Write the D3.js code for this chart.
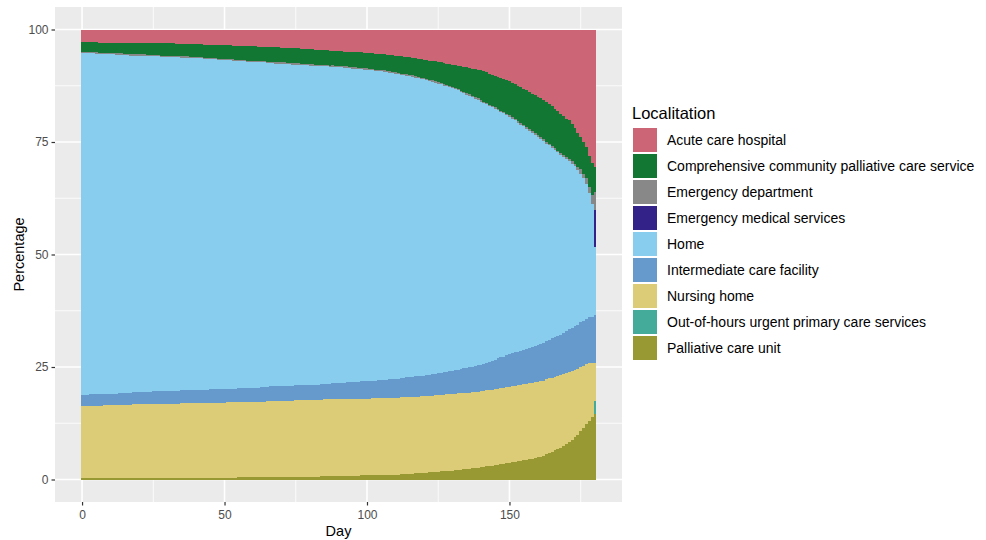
<!DOCTYPE html>
<meta charset="utf-8">
<style>
  body { margin: 0; background: #fff; }
  text { font-family: "Liberation Sans", Arial, sans-serif; }
</style>
<body>
<script src="https://d3js.org/d3.v7.min.js"></script>
<script>
// day before death, 0..180
var days = d3.range(0, 181);

// stack order, bottom to top
var locations = ["Palliative care unit", "Out-of-hours urgent primary care services", "Nursing home",
  "Intermediate care facility", "Home", "Emergency medical services", "Emergency department",
  "Comprehensive community palliative care service", "Acute care hospital"];

var colors = ["#999933", "#44AA99", "#DDCC77", "#6699CC", "#88CCEE", "#332288", "#888888", "#117733", "#CC6677"];

// percentages per day
var palliativeCareUnit = [
  0.3,0.3,0.3,0.3,0.3,0.3,0.3,0.3,0.3,0.3,
  0.3,0.3,0.3,0.3,0.3,0.3,0.3,0.3,0.3,0.3,
  0.3,0.3,0.3,0.3,0.3,0.3,0.3,0.3,0.3,0.3,
  0.3,0.3,0.3,0.3,0.3,0.4,0.4,0.4,0.4,0.4,
  0.4,0.4,0.4,0.4,0.4,0.4,0.4,0.4,0.4,0.4,
  0.4,0.4,0.4,0.4,0.4,0.5,0.5,0.5,0.5,0.5,
  0.5,0.5,0.5,0.5,0.5,0.6,0.6,0.6,0.6,0.6,
  0.6,0.6,0.6,0.6,0.6,0.6,0.6,0.6,0.6,0.6,
  0.6,0.6,0.6,0.6,0.7,0.7,0.7,0.7,0.7,0.7,
  0.7,0.7,0.7,0.8,0.8,0.8,0.8,0.8,0.9,0.9,
  0.9,0.9,0.9,1.0,1.0,1.0,1.0,1.0,1.1,1.1,
  1.1,1.1,1.2,1.2,1.3,1.3,1.3,1.4,1.4,1.5,
  1.5,1.5,1.6,1.6,1.7,1.7,1.8,1.8,1.9,1.9,
  2.0,2.1,2.1,2.2,2.3,2.3,2.4,2.5,2.6,2.6,
  2.7,2.8,2.9,3.0,3.1,3.2,3.3,3.4,3.5,3.6,
  3.7,3.8,3.9,4.0,4.1,4.3,4.4,4.5,4.6,4.8,
  4.9,5.1,5.3,5.6,5.9,6.2,6.5,6.8,7.1,7.4,
  7.8,8.3,8.8,9.4,10.0,10.8,11.5,12.3,13.1,13.9,
  14.5];

var outOfHours = [
  0,0,0,0,0,0,0,0,0,0, 0,0,0,0,0,0,0,0,0,0,
  0,0,0,0,0,0,0,0,0,0, 0,0,0,0,0,0,0,0,0,0,
  0,0,0,0,0,0,0,0,0,0, 0,0,0,0,0,0,0,0,0,0,
  0,0,0,0,0,0,0,0,0,0, 0,0,0,0,0,0,0,0,0,0,
  0,0,0,0,0,0,0,0,0,0, 0,0,0,0,0,0,0,0,0,0,
  0,0,0,0,0,0,0,0,0,0, 0,0,0,0,0,0,0,0,0,0,
  0,0,0,0,0,0,0,0,0,0, 0,0,0,0,0,0,0,0,0,0,
  0,0,0,0,0,0,0,0,0,0, 0,0,0,0,0,0,0,0,0,0,
  0,0,0,0,0,0,0,0,0,0, 0,0,0,0,0,0,0,0,0,0,
  3.0];

var nursingHome = [
  16.0,16.0,16.0,16.1,16.1,16.1,16.1,16.1,16.2,16.2,
  16.2,16.2,16.2,16.3,16.3,16.3,16.3,16.3,16.4,16.4,
  16.4,16.4,16.4,16.4,16.4,16.5,16.5,16.5,16.5,16.5,
  16.5,16.5,16.5,16.5,16.5,16.6,16.6,16.6,16.6,16.6,
  16.6,16.6,16.6,16.6,16.6,16.7,16.7,16.7,16.7,16.7,
  16.7,16.7,16.7,16.7,16.7,16.8,16.8,16.8,16.8,16.8,
  16.8,16.8,16.8,16.8,16.8,16.9,16.9,16.9,16.9,16.9,
  16.9,16.9,16.9,16.9,16.9,17.0,17.0,17.0,17.0,17.0,
  17.0,17.0,17.0,17.0,17.0,17.1,17.1,17.1,17.1,17.1,
  17.1,17.1,17.1,17.1,17.1,17.1,17.1,17.1,17.1,17.1,
  17.1,17.1,17.1,17.1,17.1,17.1,17.1,17.1,17.1,17.1,
  17.1,17.1,17.1,17.1,17.1,17.0,17.0,17.0,17.0,17.0,
  17.0,17.0,17.0,17.0,17.0,17.0,17.0,17.0,17.0,17.0,
  17.0,17.0,17.0,17.0,17.0,16.9,16.9,16.9,16.9,16.9,
  16.9,16.9,16.9,16.9,16.9,16.9,16.9,16.9,16.9,16.9,
  16.9,16.9,16.9,16.9,16.9,16.8,16.8,16.8,16.8,16.8,
  16.8,16.8,16.7,16.7,16.6,16.5,16.4,16.3,16.1,16.0,
  15.8,15.6,15.3,15.0,14.6,14.2,13.8,13.3,12.8,12.0,
  8.5];

var intermediateCare = [
  2.5,2.5,2.5,2.5,2.5,2.6,2.6,2.6,2.6,2.6,
  2.6,2.6,2.6,2.6,2.6,2.7,2.7,2.7,2.7,2.7,
  2.7,2.7,2.7,2.7,2.7,2.8,2.8,2.8,2.8,2.8,
  2.8,2.8,2.8,2.8,2.8,2.9,2.9,2.9,2.9,2.9,
  2.9,2.9,2.9,2.9,2.9,3.0,3.0,3.0,3.0,3.0,
  3.0,3.0,3.0,3.0,3.0,3.1,3.1,3.1,3.1,3.1,
  3.1,3.1,3.1,3.2,3.2,3.2,3.2,3.2,3.3,3.3,
  3.3,3.3,3.3,3.3,3.3,3.4,3.4,3.4,3.4,3.4,
  3.4,3.4,3.4,3.5,3.5,3.5,3.5,3.5,3.6,3.6,
  3.6,3.6,3.6,3.7,3.7,3.7,3.7,3.7,3.8,3.8,
  3.8,3.8,3.9,3.9,4.0,4.0,4.0,4.1,4.1,4.2,
  4.2,4.2,4.3,4.3,4.4,4.4,4.4,4.5,4.5,4.6,
  4.6,4.6,4.7,4.8,4.8,4.9,4.9,5.0,5.1,5.1,
  5.2,5.3,5.3,5.4,5.5,5.5,5.6,5.7,5.8,5.8,
  5.9,6.0,6.2,6.3,6.4,6.5,6.7,6.8,6.9,7.1,
  7.2,7.3,7.4,7.5,7.6,7.7,7.8,7.9,8.0,8.1,
  8.2,8.3,8.4,8.5,8.6,8.7,8.8,8.9,9.0,9.2,
  9.4,9.5,9.6,9.7,9.8,9.9,10.0,10.1,10.2,10.3,
  10.6];

var home = [
  75.9,75.9,75.8,75.8,75.7,75.7,75.6,75.6,75.5,75.5,
  75.4,75.4,75.3,75.2,75.2,75.1,75.0,75.0,74.9,74.9,
  74.8,74.8,74.7,74.7,74.6,74.6,74.5,74.5,74.4,74.4,
  74.3,74.2,74.2,74.1,74.1,74.0,73.9,73.9,73.8,73.8,
  73.7,73.6,73.6,73.5,73.5,73.4,73.3,73.3,73.2,73.2,
  73.1,73.0,73.0,72.9,72.8,72.8,72.7,72.6,72.5,72.5,
  72.4,72.3,72.2,72.2,72.1,72.0,71.9,71.8,71.8,71.7,
  71.6,71.5,71.5,71.4,71.4,71.3,71.2,71.2,71.1,71.1,
  71.0,70.9,70.8,70.8,70.7,70.6,70.5,70.4,70.4,70.3,
  70.2,70.1,70.0,69.9,69.8,69.8,69.7,69.6,69.5,69.4,
  69.3,69.2,69.0,68.9,68.7,68.6,68.4,68.3,68.1,68.0,
  67.8,67.6,67.4,67.2,67.0,66.8,66.6,66.4,66.2,66.0,
  65.8,65.5,65.2,64.9,64.6,64.3,64.0,63.7,63.4,63.1,
  62.8,62.4,62.0,61.5,61.1,60.7,60.3,59.8,59.4,58.9,
  58.5,58.0,57.4,56.8,56.3,55.7,55.1,54.5,54.0,53.4,
  52.8,52.1,51.5,50.8,50.2,49.5,48.8,48.2,47.5,46.9,
  46.2,45.5,44.8,44.0,43.3,42.5,41.7,40.9,40.0,39.1,
  38.2,37.4,36.5,35.5,34.4,33.1,31.6,30.0,27.5,25.0,
  15.1];

var emergencyMedical = [
  0,0,0,0,0,0,0,0,0,0, 0,0,0,0,0,0,0,0,0,0,
  0,0,0,0,0,0,0,0,0,0, 0,0,0,0,0,0,0,0,0,0,
  0,0,0,0,0,0,0,0,0,0, 0,0,0,0,0,0,0,0,0,0,
  0,0,0,0,0,0,0,0,0,0, 0,0,0,0,0,0,0,0,0,0,
  0,0,0,0,0,0,0,0,0,0, 0,0,0,0,0,0,0,0,0,0,
  0,0,0,0,0,0,0,0,0,0, 0,0,0,0,0,0,0,0,0,0,
  0,0,0,0,0,0,0,0,0,0, 0,0,0,0,0,0,0,0,0,0,
  0,0,0,0,0,0,0,0,0,0, 0,0,0,0,0,0,0,0,0,0,
  0,0,0,0,0,0,0,0,0,0, 0,0,0,0,0,0,0,0,0,0,
  8.2];

var emergencyDept = [
  0.3,0.3,0.3,0.3,0.3,0.3,0.3,0.3,0.3,0.3, 0.3,0.3,0.3,0.3,0.3,0.3,0.3,0.3,0.3,0.3,
  0.3,0.3,0.3,0.3,0.3,0.3,0.3,0.3,0.3,0.3, 0.3,0.3,0.3,0.3,0.3,0.3,0.3,0.3,0.3,0.3,
  0.3,0.3,0.3,0.3,0.3,0.3,0.3,0.3,0.3,0.3, 0.3,0.3,0.3,0.3,0.3,0.3,0.3,0.3,0.3,0.3,
  0.3,0.3,0.3,0.3,0.3,0.3,0.3,0.3,0.3,0.3, 0.3,0.3,0.3,0.3,0.3,0.3,0.3,0.3,0.3,0.3,
  0.3,0.3,0.3,0.3,0.3,0.3,0.3,0.3,0.3,0.3, 0.3,0.3,0.3,0.3,0.3,0.3,0.3,0.3,0.3,0.3,
  0.3,0.3,0.3,0.3,0.3,0.3,0.3,0.3,0.3,0.3, 0.3,0.3,0.3,0.3,0.3,0.3,0.3,0.3,0.3,0.3,
  0.3,0.3,0.3,0.3,0.3,0.3,0.3,0.3,0.3,0.3, 0.3,0.3,0.3,0.3,0.3,0.3,0.3,0.3,0.3,0.3,
  0.3,0.3,0.3,0.3,0.3,0.3,0.3,0.3,0.3,0.3,
  0.4,0.4,0.4,0.4,0.4,0.4,0.4,0.4,0.4,0.4, 0.4,0.4,0.4,0.4,0.4,0.4,0.4,0.4,0.4,0.4,
  0.4,0.5,0.5,0.6,0.7,0.9,1.0,1.2,1.5,2.0,
  4.1];

var comprehensiveCommunity = [
  2.2,2.2,2.2,2.2,2.2,2.3,2.3,2.3,2.3,2.3,
  2.3,2.3,2.4,2.4,2.4,2.4,2.4,2.5,2.5,2.5,
  2.5,2.5,2.5,2.6,2.6,2.6,2.6,2.6,2.7,2.7,
  2.7,2.7,2.7,2.7,2.7,2.8,2.8,2.8,2.8,2.8,
  2.8,2.8,2.8,2.9,2.9,2.9,2.9,2.9,3.0,3.0,
  3.0,3.0,3.0,3.0,3.1,3.1,3.1,3.1,3.2,3.2,
  3.2,3.2,3.2,3.2,3.2,3.3,3.3,3.3,3.3,3.3,
  3.3,3.3,3.3,3.3,3.3,3.3,3.3,3.3,3.3,3.3,
  3.3,3.3,3.3,3.3,3.3,3.3,3.3,3.3,3.3,3.3,
  3.3,3.3,3.3,3.3,3.3,3.4,3.4,3.4,3.4,3.4,
  3.4,3.4,3.4,3.5,3.5,3.5,3.6,3.6,3.6,3.7,
  3.7,3.7,3.8,3.8,3.9,3.9,3.9,4.0,4.0,4.1,
  4.1,4.2,4.2,4.3,4.4,4.5,4.6,4.7,4.7,4.8,
  4.9,5.1,5.2,5.4,5.6,5.8,5.9,6.1,6.3,6.4,
  6.6,6.7,6.8,6.9,7.0,7.0,7.1,7.2,7.3,7.4,
  7.5,7.6,7.7,7.8,7.9,8.0,8.1,8.2,8.3,8.5,
  8.6,8.7,8.7,8.8,8.8,8.8,8.8,8.8,8.7,8.7,
  8.6,8.5,8.3,8.0,7.6,7.2,7.0,6.9,6.9,7.2,
  5.4];

var acuteCareHospital = [
  2.8,2.8,2.8,2.8,2.8,2.8,2.9,2.9,2.9,2.9,
  2.9,2.9,2.9,2.9,2.9,3.0,3.0,3.0,3.0,3.0,
  3.0,3.0,3.0,3.0,3.0,3.1,3.1,3.1,3.1,3.1,
  3.1,3.1,3.1,3.2,3.2,3.2,3.2,3.2,3.3,3.3,
  3.3,3.3,3.3,3.4,3.4,3.4,3.4,3.4,3.5,3.5,
  3.5,3.5,3.5,3.6,3.6,3.6,3.6,3.6,3.7,3.7,
  3.7,3.7,3.8,3.8,3.8,3.9,3.9,3.9,4.0,4.0,
  4.0,4.0,4.1,4.1,4.2,4.2,4.2,4.3,4.3,4.4,
  4.4,4.4,4.5,4.5,4.6,4.6,4.6,4.7,4.7,4.8,
  4.8,4.8,4.9,4.9,5.0,5.0,5.0,5.1,5.1,5.2,
  5.2,5.3,5.3,5.4,5.4,5.5,5.5,5.6,5.7,5.7,
  5.8,5.9,6.0,6.0,6.1,6.2,6.3,6.4,6.5,6.6,
  6.7,6.8,6.9,7.0,7.1,7.2,7.3,7.5,7.6,7.7,
  7.8,7.9,8.0,8.2,8.3,8.4,8.5,8.7,8.8,8.9,
  9.1,9.3,9.5,9.8,10.0,10.3,10.5,10.8,11.0,11.3,
  11.5,11.8,12.1,12.5,12.8,13.1,13.5,13.8,14.2,14.5,
  14.9,15.3,15.7,16.2,16.6,17.1,17.6,18.2,18.7,19.2,
  19.8,20.2,21.0,21.8,22.9,23.9,25.1,26.2,28.0,29.6,
  30.6];

var series = [palliativeCareUnit, outOfHours, nursingHome, intermediateCare, home,
  emergencyMedical, emergencyDept, comprehensiveCommunity, acuteCareHospital];

var xTicks = [0, 50, 100, 150];
var xMinor = [25, 75, 125, 175];
var yTicks = [0, 25, 50, 75, 100];
var yMinor = [12.5, 37.5, 62.5, 87.5];

// legend is listed alphabetically, like ggplot does
var legendOrder = ["Acute care hospital", "Comprehensive community palliative care service",
  "Emergency department", "Emergency medical services", "Home", "Intermediate care facility",
  "Nursing home", "Out-of-hours urgent primary care services", "Palliative care unit"];

var width = 986, height = 540;
var panel = {left: 55, right: 622, top: 7, bottom: 502};

var table = days.map(function(d, i) {
  var row = {day: d};
  locations.forEach(function(k, j) { row[k] = series[j][i]; });
  return row;
});

var stack = d3.stack().keys(locations).offset(d3.stackOffsetExpand);
var stacked = stack(table);

// ggplot style 5% expansion around the data range
var x = d3.scaleLinear()
  .domain([-0.45 - 9.045, 180.45 + 9.045])
  .range([panel.left, panel.right]);

var y = d3.scaleLinear()
  .domain([-5, 105])
  .range([panel.bottom, panel.top]);

var color = d3.scaleOrdinal().domain(locations).range(colors);

var svg = d3.select("body").append("svg")
  .attr("width", width)
  .attr("height", height);

svg.append("rect")
  .attr("x", panel.left).attr("y", panel.top)
  .attr("width", panel.right - panel.left)
  .attr("height", panel.bottom - panel.top)
  .attr("fill", "#EBEBEB");

var grid = svg.append("g");
grid.selectAll("line.xminor").data(xMinor).enter().append("line")
  .attr("x1", function(d) { return x(d); }).attr("x2", function(d) { return x(d); })
  .attr("y1", panel.top).attr("y2", panel.bottom)
  .attr("stroke", "#fff").attr("stroke-width", 0.8);
grid.selectAll("line.yminor").data(yMinor).enter().append("line")
  .attr("y1", function(d) { return y(d); }).attr("y2", function(d) { return y(d); })
  .attr("x1", panel.left).attr("x2", panel.right)
  .attr("stroke", "#fff").attr("stroke-width", 0.8);
grid.selectAll("line.xmajor").data(xTicks).enter().append("line")
  .attr("x1", function(d) { return x(d); }).attr("x2", function(d) { return x(d); })
  .attr("y1", panel.top).attr("y2", panel.bottom)
  .attr("stroke", "#fff").attr("stroke-width", 1.6);
grid.selectAll("line.ymajor").data(yTicks).enter().append("line")
  .attr("y1", function(d) { return y(d); }).attr("y2", function(d) { return y(d); })
  .attr("x1", panel.left).attr("x2", panel.right)
  .attr("stroke", "#fff").attr("stroke-width", 1.6);

var layers = svg.append("g").selectAll("g")
  .data(stacked)
  .enter().append("g")
  .attr("fill", function(d) { return color(d.key); });

layers.selectAll("rect")
  .data(function(d) { return d; })
  .enter().append("rect")
  .attr("x", function(d) { return x(d.data.day - 0.5); })
  .attr("width", function(d) { return x(d.data.day + 0.5) - x(d.data.day - 0.5); })
  .attr("y", function(d) { return y(d[1] * 100); })
  .attr("height", function(d) { return y(d[0] * 100) - y(d[1] * 100); })
  .attr("shape-rendering", "crispEdges");

var xAxis = svg.append("g")
  .attr("transform", "translate(0," + panel.bottom + ")")
  .call(d3.axisBottom(x).tickValues(xTicks).tickSize(3.5).tickPadding(5));
var yAxis = svg.append("g")
  .attr("transform", "translate(" + panel.left + ",0)")
  .call(d3.axisLeft(y).tickValues(yTicks).tickSize(3.5).tickPadding(3));

[xAxis, yAxis].forEach(function(a) {
  a.select(".domain").remove();
  a.selectAll(".tick line").attr("stroke", "#333").attr("stroke-width", 1.2);
  a.selectAll(".tick text").attr("fill", "#4D4D4D").style("font-size", "12px")
    .style("font-family", '"Liberation Sans", Arial, sans-serif');
});

svg.append("text")
  .attr("x", (panel.left + panel.right) / 2)
  .attr("y", 536)
  .attr("text-anchor", "middle")
  .style("font-size", "14.5px")
  .text("Day");

svg.append("text")
  .attr("transform", "translate(24," + (panel.top + panel.bottom) / 2 + ") rotate(-90)")
  .attr("text-anchor", "middle")
  .style("font-size", "14.5px")
  .text("Percentage");

var legend = svg.append("g").attr("transform", "translate(633,0)");
legend.append("text")
  .attr("x", -1).attr("y", 119)
  .style("font-size", "16.5px")
  .text("Localitation");

var keys = legend.selectAll("g.key")
  .data(legendOrder)
  .enter().append("g")
  .attr("transform", function(d, i) { return "translate(0," + (128 + i * 26) + ")"; });

keys.append("rect")
  .attr("width", 24).attr("height", 24)
  .attr("fill", function(d) { return color(d); });

keys.append("text")
  .attr("x", 34).attr("y", 12)
  .attr("dy", "0.35em")
  .style("font-size", "14px")
  .text(function(d) { return d; });
</script>
</body>
